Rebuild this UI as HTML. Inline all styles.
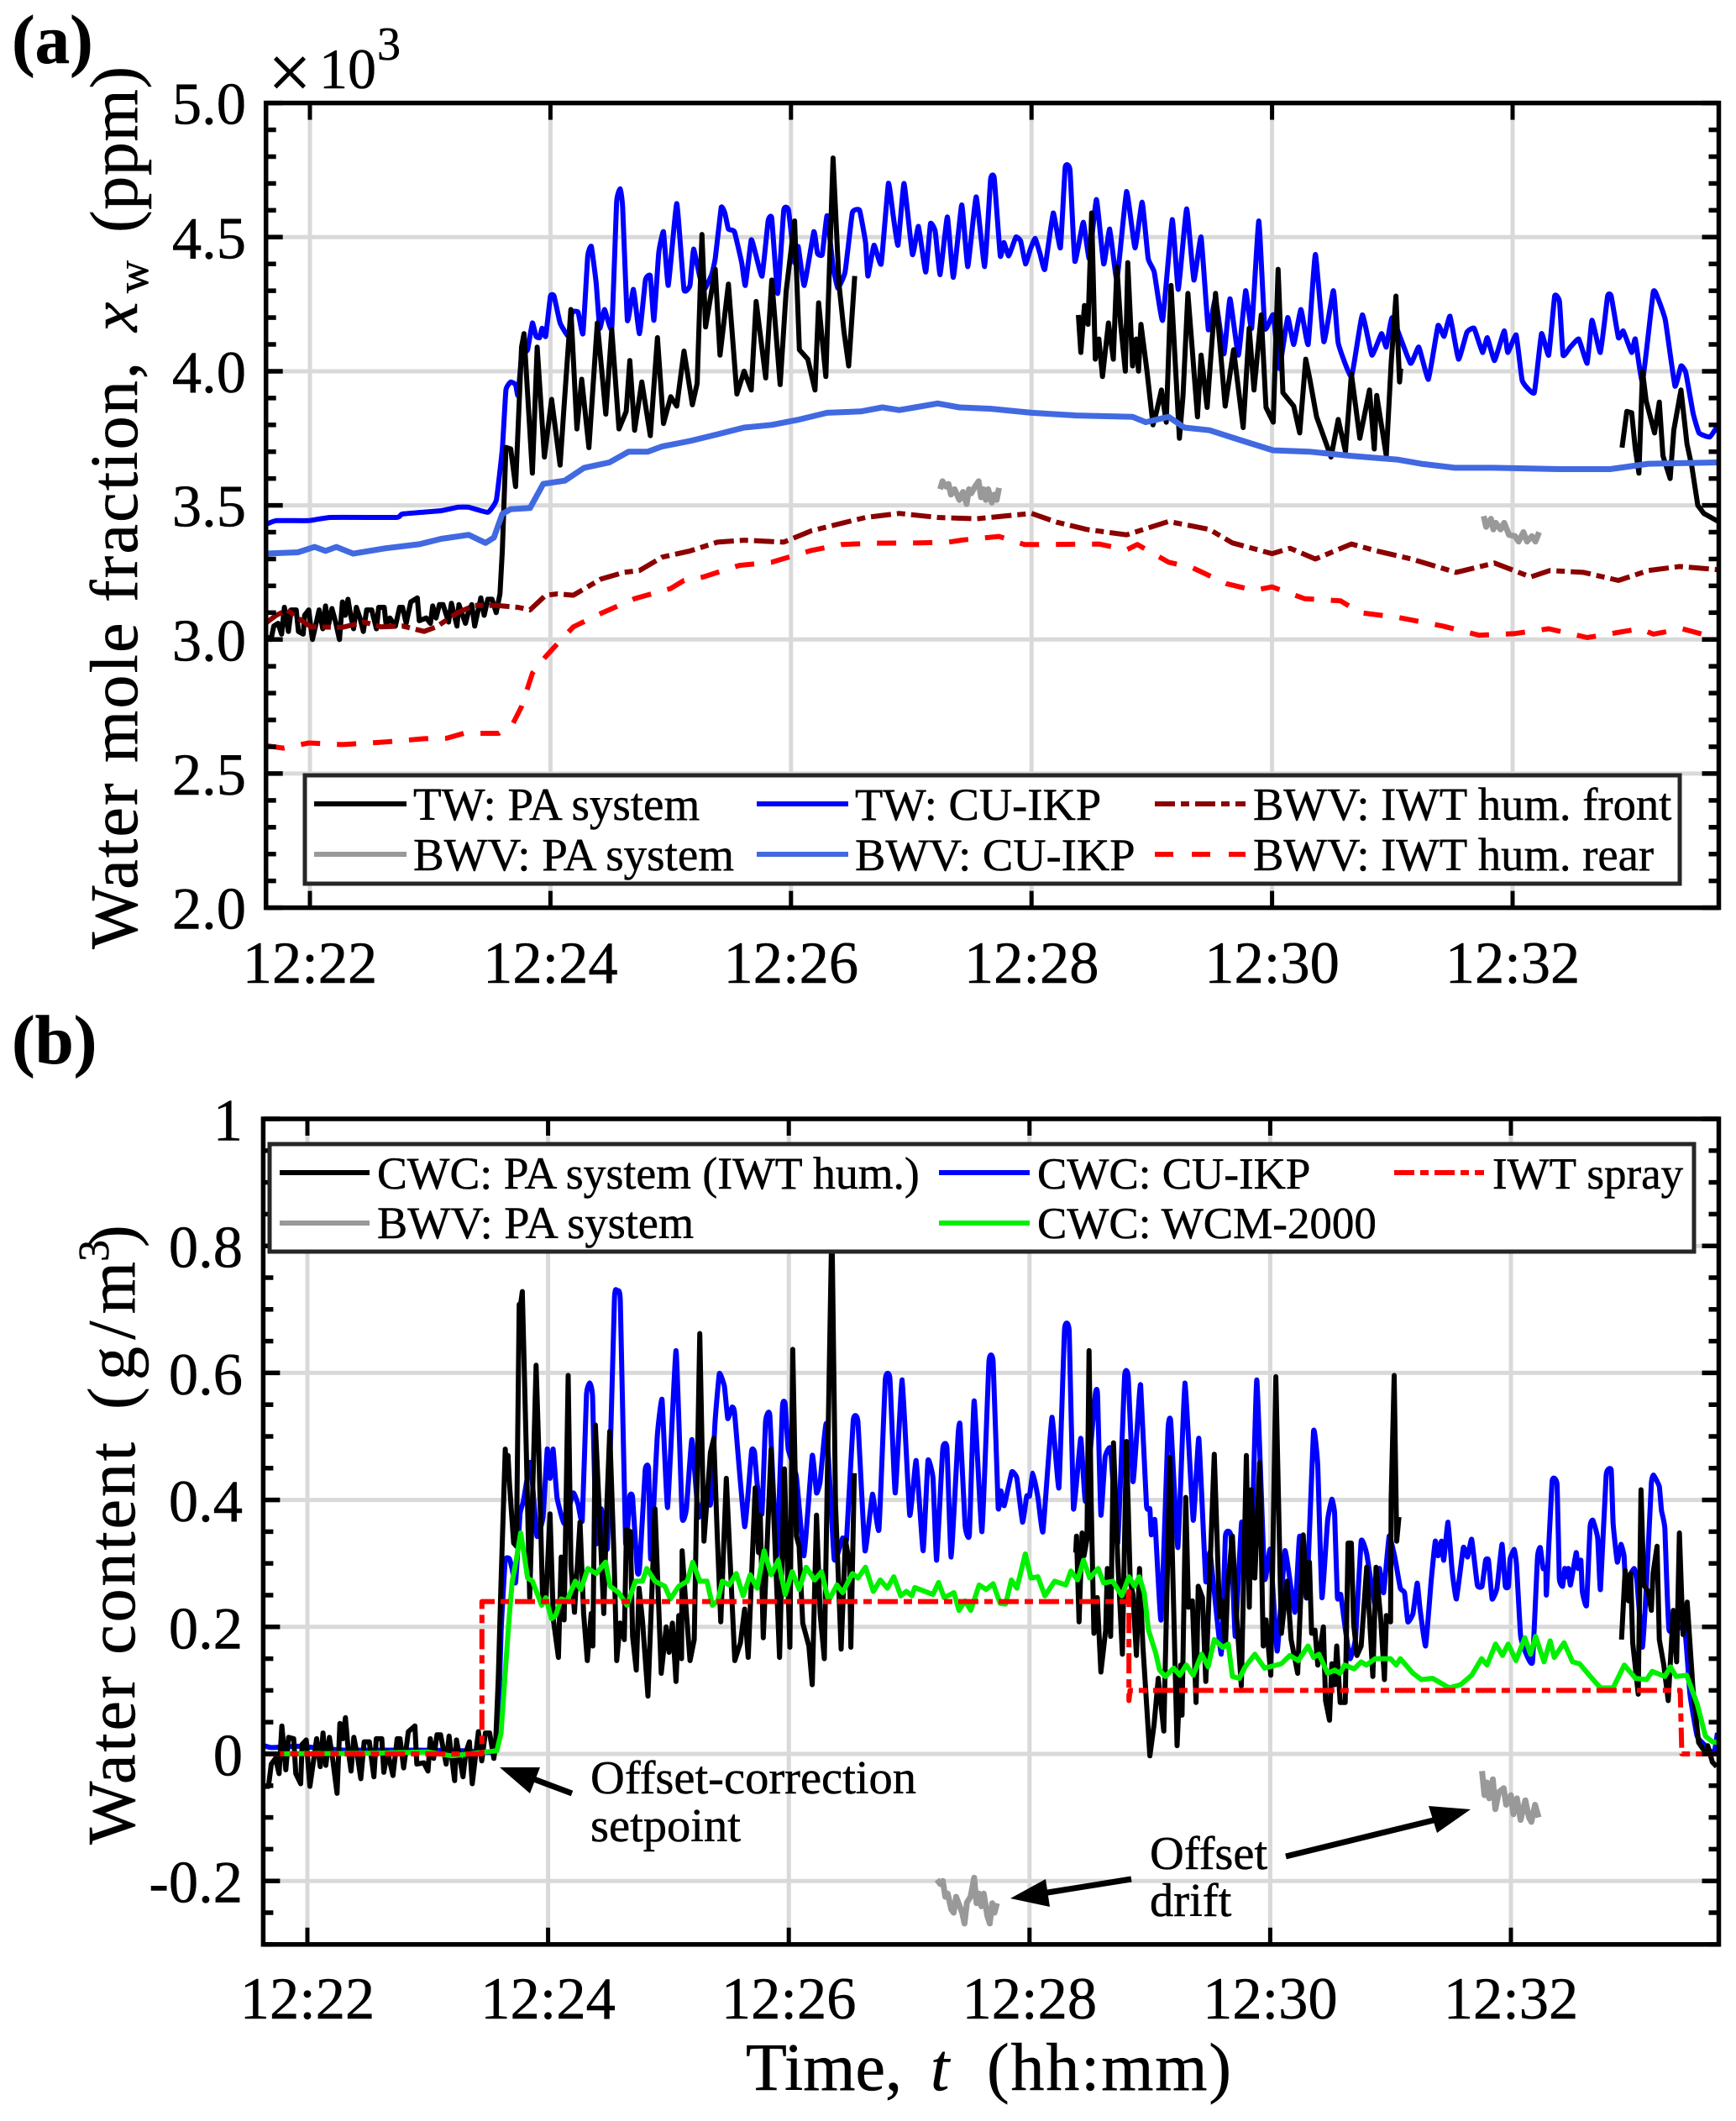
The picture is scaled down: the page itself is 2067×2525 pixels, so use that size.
<!DOCTYPE html>
<html lang="en">
<head>
<meta charset="utf-8">
<title>Water mole fraction and water content time series</title>
<style>
html,body{margin:0;padding:0;background:#fff;}
svg{display:block;}
text{font-family:"Liberation Serif",serif;fill:#000;stroke:#000;stroke-width:.5px;}
</style>
</head>
<body>
<svg id="chart" xmlns="http://www.w3.org/2000/svg" width="2067" height="2525" viewBox="0 0 2067 2525">
<rect x="0" y="0" width="2067" height="2525" fill="#fff"/>
<defs>
<clipPath id="clipA"><rect x="317" y="123" width="1730" height="958"/></clipPath>
<clipPath id="clipB"><rect x="313" y="1332" width="1734" height="983"/></clipPath>
</defs>
<g id="gridA"></g>
<g id="gridB"></g>
<g id="marksA" clip-path="url(#clipA)"></g>
<g id="marksB" clip-path="url(#clipB)"></g>
<g id="ticksA"></g>
<g id="ticksB"></g>

<rect x="316.7" y="122.6" width="1729.8" height="958" fill="none" stroke="#000" stroke-width="5.5"/>
<rect x="313.4" y="1332" width="1733.1" height="982.8" fill="none" stroke="#000" stroke-width="5.5"/>

<text x="14" y="75" font-size="83" font-weight="bold">(a)</text>
<text x="14" y="1266" font-size="83" font-weight="bold">(b)</text>
<text x="319" y="117" font-size="92">×</text>
<text x="380" y="105" font-size="68">10</text>
<text x="449" y="71" font-size="56">3</text>

<g>
<text transform="translate(163,1130) rotate(-90)" font-size="80" textLength="699" lengthAdjust="spacing">Water mole fraction,</text>
<text transform="translate(163,395) rotate(-90)" font-size="80" font-style="italic">x</text>
<text transform="translate(176,349) rotate(-90)" font-size="54">w</text>
<text transform="translate(163,277) rotate(-90)" font-size="80" textLength="198" lengthAdjust="spacing">(ppm)</text>
</g>
<g>
<text transform="translate(160,2196) rotate(-90)" font-size="80" textLength="479" lengthAdjust="spacing">Water content</text>
<text transform="translate(160,1678) rotate(-90)" font-size="80" textLength="176" lengthAdjust="spacing">(g/m</text>
<text transform="translate(129,1502) rotate(-90)" font-size="52">3</text>
<text transform="translate(160,1485) rotate(-90)" font-size="80">)</text>
</g>
<g>
<text x="888" y="2488" font-size="80">Time,</text>
<text x="1108" y="2488" font-size="80" font-style="italic">t</text>
<text x="1175" y="2488" font-size="80" textLength="291" lengthAdjust="spacing">(hh:mm)</text>
</g>

<g>
<rect x="363" y="923" width="1637" height="129" fill="#fff" stroke="#262626" stroke-width="5"/>
<line x1="374" x2="484" y1="957" y2="957" stroke="#000" stroke-width="6"/>
<text x="492" y="976" font-size="55">TW: PA system</text>
<line x1="374" x2="484" y1="1017" y2="1017" stroke="#999" stroke-width="6"/>
<text x="492" y="1036" font-size="55">BWV: PA system</text>
<line x1="901" x2="1010" y1="957" y2="957" stroke="#0000ff" stroke-width="6"/>
<text x="1018" y="976" font-size="54.5">TW: CU-IKP</text>
<line x1="901" x2="1010" y1="1017" y2="1017" stroke="#4169e1" stroke-width="6"/>
<text x="1018" y="1036" font-size="54.5">BWV: CU-IKP</text>
<line x1="1375" x2="1483" y1="957" y2="957" stroke="#8b0000" stroke-width="6" stroke-dasharray="24 7 10 7"/>
<text x="1492" y="976" font-size="54.6">BWV: IWT hum. front</text>
<line x1="1375" x2="1483" y1="1017" y2="1017" stroke="#ff0000" stroke-width="6" stroke-dasharray="22 22"/>
<text x="1492" y="1036" font-size="54.6">BWV: IWT hum. rear</text>
</g>

<g>
<rect x="321" y="1362" width="1696" height="128" fill="#fff" stroke="#262626" stroke-width="5"/>
<line x1="333" x2="440" y1="1396" y2="1396" stroke="#000" stroke-width="6"/>
<text x="449" y="1415" font-size="53.7">CWC: PA system (IWT hum.)</text>
<line x1="333" x2="440" y1="1456" y2="1456" stroke="#999" stroke-width="6"/>
<text x="449" y="1474" font-size="54.3">BWV: PA system</text>
<line x1="1118" x2="1226" y1="1396" y2="1396" stroke="#0000ff" stroke-width="6"/>
<text x="1235" y="1415" font-size="53">CWC: CU-IKP</text>
<line x1="1118" x2="1226" y1="1456" y2="1456" stroke="#00f000" stroke-width="6"/>
<text x="1235" y="1474" font-size="53">CWC: WCM-2000</text>
<line x1="1660" x2="1767" y1="1396" y2="1396" stroke="#ff0000" stroke-width="6" stroke-dasharray="24 7 10 7"/>
<text x="1777" y="1415" font-size="53">IWT spray</text>
</g>

<g>
<text x="703" y="2135" font-size="56.5">Offset-correction</text>
<text x="703" y="2192" font-size="56.5">setpoint</text>
<text x="1369" y="2225" font-size="56.5">Offset</text>
<text x="1369" y="2281" font-size="56.5">drift</text>
<line x1="681" y1="2135" x2="625" y2="2114" stroke="#000" stroke-width="7"/>
<polygon points="595,2104 643,2104 631,2135" fill="#000"/>
<line x1="1347" y1="2237" x2="1235" y2="2255" stroke="#000" stroke-width="7"/>
<polygon points="1203,2260 1245,2237 1250,2270" fill="#000"/>
<line x1="1531" y1="2210" x2="1715" y2="2165" stroke="#000" stroke-width="7"/>
<polygon points="1751,2154 1701,2150 1711,2182" fill="#000"/>
</g>
<g id="labels"></g>
</svg>

<script>
// ---------- shared axis data ----------
const xTickMinutes = [22, 24, 26, 28, 30, 32];
const xTickLabels = ["12:22", "12:24", "12:26", "12:28", "12:30", "12:32"];
const yTicksA = [2, 2.5, 3, 3.5, 4, 4.5, 5];
const yLabelsA = ["2.0", "2.5", "3.0", "3.5", "4.0", "4.5", "5.0"];
const yMinorStepA = 0.1;
const yTicksB = [-0.2, 0, 0.2, 0.4, 0.6, 0.8, 1];
const yLabelsB = ["-0.2", "0", "0.2", "0.4", "0.6", "0.8", "1"];
const yMinorStepB = 0.05;

// ---------- panel (a): [minute after 12:00, mole fraction x 10^3 ppm] ----------
const twCuIkpA = [[21.64,3.43],[21.72,3.443],[21.99,3.443],[22.17,3.455],[22.72,3.455],[22.77,3.468],[23.09,3.48],[23.23,3.493],[23.32,3.493],[23.48,3.474],[23.55,3.52],[23.6,3.71],[23.63,3.93],[23.67,3.96],[23.71,3.95],[23.73,3.91],[23.76,4.06],[23.78,4.07],[23.81,4.08],[23.85,4.18],[23.88,4.13],[23.91,4.125],[23.93,4.16],[23.96,4.13],[24.0,4.28],[24.03,4.28],[24.08,4.18],[24.15,4.13],[24.18,4.22],[24.23,4.22],[24.27,4.14],[24.31,4.43],[24.34,4.465],[24.38,4.33],[24.41,4.16],[24.45,4.23],[24.51,4.16],[24.55,4.63],[24.58,4.68],[24.6,4.615],[24.64,4.19],[24.69,4.305],[24.74,4.14],[24.79,4.34],[24.83,4.355],[24.86,4.19],[24.9,4.44],[24.94,4.52],[24.98,4.32],[25.05,4.625],[25.11,4.305],[25.16,4.32],[25.19,4.455],[25.24,4.355],[25.28,4.305],[25.34,4.36],[25.37,4.42],[25.42,4.61],[25.45,4.59],[25.48,4.53],[25.53,4.52],[25.59,4.405],[25.62,4.32],[25.67,4.49],[25.71,4.43],[25.76,4.355],[25.81,4.56],[25.84,4.57],[25.89,4.29],[25.94,4.6],[25.98,4.6],[26.03,4.405],[26.06,4.465],[26.11,4.32],[26.19,4.52],[26.22,4.44],[26.26,4.435],[26.3,4.58],[26.35,4.39],[26.39,4.31],[26.45,4.37],[26.51,4.59],[26.57,4.6],[26.62,4.48],[26.64,4.355],[26.69,4.47],[26.75,4.4],[26.81,4.7],[26.85,4.58],[26.89,4.47],[26.94,4.7],[27.01,4.435],[27.06,4.54],[27.12,4.37],[27.16,4.55],[27.2,4.52],[27.24,4.36],[27.3,4.575],[27.35,4.35],[27.42,4.62],[27.47,4.39],[27.54,4.65],[27.61,4.39],[27.66,4.715],[27.69,4.72],[27.74,4.43],[27.77,4.48],[27.81,4.43],[27.87,4.5],[27.91,4.485],[27.95,4.4],[27.99,4.455],[28.03,4.495],[28.07,4.44],[28.11,4.38],[28.18,4.59],[28.24,4.46],[28.28,4.76],[28.32,4.75],[28.36,4.41],[28.43,4.555],[28.48,4.42],[28.54,4.64],[28.6,4.4],[28.65,4.53],[28.71,4.34],[28.79,4.67],[28.86,4.46],[28.92,4.63],[28.97,4.42],[29.02,4.37],[29.09,4.19],[29.17,4.565],[29.22,4.305],[29.29,4.605],[29.35,4.34],[29.41,4.5],[29.47,4.155],[29.53,4.27],[29.6,4.065],[29.65,4.27],[29.72,4.06],[29.78,4.3],[29.83,4.16],[29.89,4.56],[29.94,4.16],[30.01,4.21],[30.06,4.01],[30.13,4.2],[30.18,4.1],[30.24,4.23],[30.3,4.1],[30.36,4.435],[30.43,4.11],[30.51,4.3],[30.55,4.105],[30.66,3.98],[30.75,4.21],[30.83,4.06],[30.91,4.14],[30.95,4.09],[31.0,4.2],[31.15,4.03],[31.22,4.09],[31.3,3.97],[31.38,4.17],[31.43,4.13],[31.48,4.205],[31.55,4.045],[31.62,4.145],[31.68,4.16],[31.75,4.07],[31.79,4.125],[31.85,4.04],[31.93,4.15],[31.96,4.07],[32.03,4.135],[32.08,3.965],[32.18,3.92],[32.24,4.14],[32.3,4.06],[32.35,4.28],[32.39,4.26],[32.42,4.06],[32.48,4.09],[32.55,4.12],[32.62,4.03],[32.66,4.19],[32.73,4.07],[32.79,4.28],[32.82,4.28],[32.88,4.125],[32.92,4.15],[32.99,4.07],[33.02,4.12],[33.08,3.96],[33.17,4.295],[33.21,4.27],[33.27,4.19],[33.35,3.945],[33.4,4.02],[33.44,3.995],[33.5,3.845],[33.55,3.77],[33.64,3.755],[33.71,3.8]];
const twPaSeg1A = [[21.642,3.01],[21.677,3.0],[21.7,3.05],[21.735,3.06],[21.765,3.02],[21.788,3.12],[21.821,3.03],[21.844,3.11],[21.886,3.11],[21.904,3.03],[21.944,3.02],[21.956,3.09],[21.99,3.11],[22.021,3.0],[22.077,3.11],[22.107,3.04],[22.13,3.125],[22.153,3.05],[22.183,3.115],[22.211,3.07],[22.246,3.0],[22.27,3.14],[22.293,3.09],[22.316,3.15],[22.339,3.09],[22.363,3.04],[22.386,3.12],[22.416,3.08],[22.444,3.03],[22.472,3.11],[22.514,3.11],[22.553,3.04],[22.572,3.12],[22.618,3.12],[22.635,3.05],[22.665,3.08],[22.711,3.05],[22.746,3.12],[22.77,3.12],[22.8,3.06],[22.839,3.14],[22.893,3.155],[22.909,3.07],[22.967,3.08],[23.002,3.06],[23.021,3.125],[23.049,3.08],[23.077,3.13],[23.107,3.13],[23.153,3.065],[23.177,3.135],[23.223,3.05],[23.239,3.13],[23.293,3.06],[23.316,3.1],[23.346,3.13],[23.37,3.05],[23.421,3.155],[23.449,3.09],[23.479,3.15],[23.514,3.15],[23.549,3.1],[23.58,3.17],[23.6,3.33],[23.63,3.716],[23.67,3.71],[23.71,3.57],[23.76,4.09],[23.78,4.14],[23.85,3.62],[23.89,4.09],[23.95,3.68],[24.01,3.895],[24.08,3.65],[24.11,3.85],[24.17,4.23],[24.22,3.785],[24.26,3.97],[24.32,3.715],[24.39,4.18],[24.46,3.84],[24.51,4.155],[24.57,3.785],[24.63,3.85],[24.66,4.04],[24.7,3.78],[24.76,3.96],[24.83,3.76],[24.89,4.125],[24.94,3.805],[25.0,3.905],[25.05,3.87],[25.11,4.075],[25.18,3.875],[25.22,3.955],[25.26,4.51],[25.29,4.165],[25.37,4.38],[25.41,4.06],[25.48,4.325],[25.55,3.915],[25.61,4.0],[25.67,3.93],[25.71,4.26],[25.79,3.975],[25.84,4.34],[25.91,3.95],[25.96,4.3],[26.03,4.56],[26.07,4.08],[26.14,4.045],[26.2,3.93],[26.23,4.255],[26.29,3.98],[26.35,4.795],[26.4,4.32],[26.44,4.15],[26.48,4.02],[26.53,4.355]];
const twPaSeg2A = [[28.39,4.21],[28.41,4.07],[28.44,4.245],[28.47,4.175],[28.5,4.59],[28.53,4.045],[28.56,4.12],[28.59,3.98],[28.64,4.18],[28.68,4.045],[28.71,4.39],[28.74,4.18],[28.78,4.0],[28.8,4.405],[28.84,4.02],[28.87,4.12],[28.89,4.0],[28.91,4.175],[28.96,4.0],[29.01,3.8],[29.04,3.85],[29.08,3.93],[29.12,3.81],[29.16,4.32],[29.23,3.75],[29.26,3.91],[29.3,4.29],[29.38,3.83],[29.41,4.06],[29.46,3.865],[29.53,4.29],[29.61,3.87],[29.68,4.08],[29.76,3.79],[29.81,4.16],[29.85,3.93],[29.91,4.21],[29.95,3.865],[30.01,3.81],[30.05,4.38],[30.09,3.92],[30.18,3.87],[30.23,3.77],[30.28,4.045],[30.31,3.98],[30.37,3.83],[30.49,3.68],[30.55,3.82],[30.61,3.7],[30.66,3.99],[30.73,3.75],[30.81,3.93],[30.85,3.71],[30.87,3.91],[30.95,3.685],[30.99,4.03],[31.03,4.28],[31.06,3.96],[31.07,4.01]];
const twPaSeg3A = [[32.91,3.715],[32.95,3.85],[32.99,3.845],[33.02,3.71],[33.05,3.62],[33.08,4.0],[33.11,3.89],[33.18,3.77],[33.22,3.885],[33.25,3.685],[33.31,3.6],[33.34,3.78],[33.4,3.93],[33.45,3.73],[33.49,3.645],[33.54,3.5],[33.59,3.47],[33.71,3.44]];
const bwvCuIkpA = [[21.63,3.32],[21.9,3.325],[22.04,3.345],[22.13,3.33],[22.22,3.345],[22.36,3.32],[22.63,3.34],[22.91,3.355],[23.09,3.375],[23.32,3.39],[23.46,3.36],[23.53,3.38],[23.6,3.468],[23.67,3.486],[23.83,3.49],[23.94,3.58],[24.12,3.592],[24.28,3.64],[24.49,3.66],[24.65,3.7],[24.81,3.7],[24.93,3.72],[25.16,3.74],[25.39,3.765],[25.61,3.79],[25.84,3.8],[26.07,3.82],[26.3,3.845],[26.58,3.85],[26.76,3.865],[26.9,3.855],[27.03,3.865],[27.22,3.88],[27.4,3.865],[27.66,3.86],[28.0,3.845],[28.37,3.835],[28.84,3.83],[28.95,3.81],[29.14,3.83],[29.27,3.79],[29.48,3.78],[29.76,3.74],[30.01,3.705],[30.31,3.7],[30.64,3.685],[31.05,3.67],[31.24,3.655],[31.52,3.64],[31.84,3.64],[32.39,3.635],[32.81,3.635],[33.13,3.655],[33.71,3.66]];
const bwvPaSeg1A = [[27.24,3.56],[27.26,3.59],[27.29,3.57],[27.31,3.58],[27.33,3.54],[27.36,3.56],[27.4,3.52],[27.43,3.55],[27.46,3.505],[27.48,3.56],[27.5,3.545],[27.53,3.57],[27.56,3.59],[27.58,3.53],[27.6,3.56],[27.62,3.52],[27.64,3.56],[27.67,3.51],[27.69,3.54],[27.71,3.52],[27.73,3.565]];
const bwvPaSeg2A = [[31.76,3.46],[31.78,3.42],[31.82,3.45],[31.84,3.41],[31.86,3.435],[31.9,3.41],[31.93,3.435],[31.97,3.39],[32.02,3.385],[32.05,3.365],[32.09,3.4],[32.12,3.365],[32.16,3.385],[32.19,3.365],[32.22,3.4]];
const humFrontA = [[21.63,3.06],[21.72,3.09],[21.81,3.11],[21.9,3.08],[22.01,3.047],[22.27,3.045],[22.45,3.065],[22.59,3.047],[22.77,3.05],[22.95,3.03],[23.05,3.047],[23.23,3.1],[23.37,3.127],[23.55,3.127],[23.73,3.12],[23.83,3.11],[23.96,3.165],[24.06,3.17],[24.19,3.165],[24.42,3.225],[24.61,3.25],[24.74,3.257],[24.93,3.307],[25.16,3.33],[25.39,3.363],[25.61,3.37],[25.94,3.363],[26.17,3.405],[26.42,3.433],[26.62,3.455],[26.9,3.47],[27.22,3.455],[27.54,3.45],[28.0,3.47],[28.21,3.437],[28.46,3.41],[28.79,3.39],[29.14,3.44],[29.48,3.41],[29.67,3.36],[30.0,3.32],[30.15,3.34],[30.36,3.3],[30.66,3.356],[30.87,3.33],[31.16,3.3],[31.53,3.25],[31.85,3.285],[32.15,3.233],[32.31,3.257],[32.59,3.25],[32.88,3.22],[33.13,3.257],[33.39,3.272],[33.71,3.26]];
const humRearA = [[21.63,2.604],[21.78,2.595],[21.99,2.614],[22.27,2.608],[22.63,2.618],[22.95,2.63],[23.14,2.632],[23.28,2.65],[23.57,2.65],[23.69,2.688],[23.76,2.75],[23.85,2.874],[23.96,2.936],[24.06,2.985],[24.19,3.047],[24.42,3.097],[24.7,3.152],[25.0,3.19],[25.11,3.22],[25.27,3.233],[25.39,3.25],[25.57,3.276],[25.84,3.288],[26.17,3.332],[26.42,3.354],[26.71,3.359],[27.08,3.36],[27.31,3.363],[27.43,3.371],[27.73,3.384],[27.94,3.354],[28.19,3.354],[28.56,3.356],[28.79,3.334],[28.88,3.354],[29.14,3.288],[29.34,3.267],[29.62,3.208],[29.85,3.183],[30.0,3.196],[30.27,3.152],[30.57,3.144],[30.73,3.1],[31.05,3.082],[31.42,3.05],[31.72,3.016],[32.02,3.022],[32.3,3.04],[32.62,3.007],[33.06,3.04],[33.17,3.02],[33.41,3.04],[33.71,3.004]];

// ---------- panel (b): [minute after 12:00, water content g/m^3] ----------
const cwcCuIkpB = [[21.64,0.013],[21.7,0.01],[21.93,0.012],[22.3,0.006],[22.9,0.006],[23.3,0.005],[23.55,0.003],[23.586,0.048],[23.61,0.195],[23.644,0.305],[23.68,0.307],[23.7,0.292],[23.73,0.27],[23.767,0.378],[23.795,0.398],[23.854,0.459],[23.907,0.343],[23.958,0.373],[23.993,0.48],[24.016,0.434],[24.042,0.48],[24.074,0.404],[24.133,0.363],[24.209,0.411],[24.249,0.393],[24.284,0.368],[24.319,0.566],[24.347,0.584],[24.37,0.561],[24.4,0.332],[24.442,0.386],[24.493,0.325],[24.551,0.716],[24.574,0.728],[24.6,0.713],[24.644,0.332],[24.679,0.406],[24.702,0.404],[24.742,0.287],[24.76,0.292],[24.807,0.447],[24.835,0.449],[24.853,0.307],[24.907,0.5],[24.947,0.558],[24.993,0.388],[25.063,0.635],[25.114,0.373],[25.149,0.386],[25.195,0.495],[25.249,0.373],[25.302,0.409],[25.349,0.393],[25.388,0.525],[25.423,0.599],[25.465,0.579],[25.493,0.528],[25.528,0.546],[25.55,0.536],[25.633,0.358],[25.691,0.477],[25.715,0.475],[25.737,0.426],[25.777,0.378],[25.807,0.523],[25.842,0.533],[25.9,0.312],[25.947,0.546],[25.97,0.551],[25.995,0.48],[26.063,0.437],[26.126,0.312],[26.195,0.47],[26.23,0.411],[26.26,0.429],[26.312,0.52],[26.377,0.307],[26.447,0.34],[26.48,0.338],[26.535,0.525],[26.574,0.523],[26.633,0.32],[26.695,0.409],[26.749,0.353],[26.802,0.589],[26.84,0.591],[26.884,0.411],[26.942,0.589],[27.005,0.376],[27.058,0.462],[27.116,0.32],[27.156,0.462],[27.198,0.434],[27.228,0.305],[27.279,0.48],[27.314,0.482],[27.349,0.31],[27.407,0.503],[27.423,0.518],[27.465,0.36],[27.5,0.345],[27.54,0.556],[27.605,0.35],[27.663,0.617],[27.698,0.617],[27.74,0.388],[27.763,0.414],[27.79,0.391],[27.853,0.444],[27.895,0.434],[27.942,0.365],[27.977,0.406],[28.0,0.406],[28.028,0.442],[28.07,0.404],[28.112,0.35],[28.186,0.53],[28.244,0.419],[28.291,0.668],[28.33,0.665],[28.365,0.386],[28.426,0.497],[28.465,0.398],[28.547,0.566],[28.565,0.566],[28.593,0.376],[28.628,0.467],[28.674,0.48],[28.733,0.332],[28.79,0.594],[28.82,0.594],[28.86,0.429],[28.895,0.515],[28.923,0.581],[28.972,0.391],[29.0,0.386],[29.012,0.345],[29.042,0.368],[29.093,0.211],[29.151,0.51],[29.174,0.523],[29.233,0.325],[29.291,0.584],[29.36,0.368],[29.407,0.497],[29.465,0.272],[29.5,0.317],[29.593,0.157],[29.628,0.343],[29.674,0.343],[29.71,0.185],[29.763,0.365],[29.837,0.277],[29.888,0.589],[29.953,0.277],[30.0,0.322],[30.058,0.162],[30.123,0.32],[30.205,0.223],[30.244,0.343],[30.302,0.246],[30.36,0.508],[30.395,0.454],[30.43,0.246],[30.477,0.368],[30.512,0.401],[30.535,0.378],[30.558,0.246],[30.586,0.251],[30.616,0.208],[30.663,0.15],[30.709,0.183],[30.756,0.335],[30.802,0.315],[30.872,0.231],[30.907,0.292],[30.942,0.254],[30.988,0.343],[31.035,0.31],[31.081,0.261],[31.116,0.254],[31.144,0.208],[31.186,0.221],[31.221,0.269],[31.245,0.228],[31.291,0.17],[31.337,0.272],[31.372,0.335],[31.395,0.312],[31.423,0.335],[31.442,0.305],[31.477,0.365],[31.512,0.287],[31.547,0.244],[31.605,0.325],[31.64,0.31],[31.674,0.338],[31.721,0.266],[31.76,0.264],[31.79,0.305],[31.814,0.305],[31.844,0.244],[31.884,0.261],[31.926,0.33],[31.953,0.264],[31.98,0.264],[31.993,0.307],[32.028,0.322],[32.047,0.297],[32.081,0.185],[32.128,0.157],[32.179,0.145],[32.221,0.31],[32.244,0.325],[32.267,0.292],[32.29,0.292],[32.295,0.251],[32.342,0.429],[32.384,0.424],[32.402,0.277],[32.43,0.264],[32.447,0.292],[32.465,0.279],[32.477,0.292],[32.495,0.266],[32.542,0.317],[32.558,0.292],[32.581,0.305],[32.593,0.256],[32.628,0.234],[32.658,0.358],[32.681,0.368],[32.721,0.34],[32.744,0.259],[32.791,0.439],[32.833,0.447],[32.849,0.363],[32.884,0.302],[32.914,0.33],[32.94,0.312],[32.953,0.272],[33.023,0.292],[33.047,0.272],[33.093,0.168],[33.128,0.272],[33.167,0.426],[33.186,0.439],[33.233,0.421],[33.251,0.383],[33.279,0.355],[33.314,0.195],[33.442,0.2],[33.488,0.094],[33.547,0.028],[33.616,0.013],[33.686,0.0],[33.716,0.033]];
const cwcPaSeg1B = [[21.642,-0.051],[21.677,-0.051],[21.7,-0.016],[21.735,-0.007],[21.765,-0.031],[21.788,0.044],[21.821,-0.025],[21.844,0.026],[21.886,0.024],[21.904,-0.031],[21.944,-0.047],[21.956,0.015],[21.99,0.022],[22.021,-0.051],[22.077,0.024],[22.107,-0.02],[22.13,0.033],[22.153,-0.018],[22.183,0.026],[22.211,-0.009],[22.246,-0.062],[22.27,0.048],[22.293,0.024],[22.316,0.057],[22.339,0.006],[22.363,-0.027],[22.386,0.026],[22.416,-0.003],[22.444,-0.039],[22.472,0.019],[22.514,0.019],[22.553,-0.036],[22.572,0.024],[22.618,0.024],[22.635,-0.029],[22.665,0.004],[22.711,-0.034],[22.746,0.024],[22.77,0.024],[22.8,-0.022],[22.839,0.035],[22.893,0.044],[22.909,-0.016],[22.967,-0.014],[23.002,-0.027],[23.021,0.024],[23.049,-0.007],[23.077,0.03],[23.107,0.03],[23.153,-0.016],[23.177,0.028],[23.223,-0.042],[23.239,0.022],[23.293,-0.036],[23.316,0.002],[23.346,0.019],[23.37,-0.047],[23.421,0.035],[23.449,-0.011],[23.479,0.033],[23.514,0.033],[23.549,-0.007],[23.563,0.013],[23.586,0.119],[23.609,0.272],[23.644,0.48],[23.656,0.434],[23.667,0.47],[23.68,0.424],[23.714,0.332],[23.737,0.327],[23.76,0.708],[23.772,0.708],[23.786,0.728],[23.819,0.475],[23.847,0.246],[23.877,0.449],[23.9,0.612],[23.923,0.475],[23.953,0.251],[23.981,0.241],[24.016,0.378],[24.044,0.211],[24.086,0.152],[24.109,0.31],[24.133,0.211],[24.167,0.596],[24.19,0.297],[24.219,0.223],[24.265,0.365],[24.295,0.221],[24.326,0.147],[24.358,0.221],[24.372,0.17],[24.393,0.518],[24.423,0.393],[24.463,0.221],[24.486,0.378],[24.512,0.508],[24.55,0.297],[24.57,0.147],[24.598,0.206],[24.633,0.18],[24.651,0.353],[24.684,0.35],[24.702,0.185],[24.733,0.132],[24.756,0.261],[24.784,0.211],[24.83,0.091],[24.888,0.386],[24.94,0.127],[24.981,0.2],[25.005,0.16],[25.033,0.206],[25.063,0.114],[25.086,0.218],[25.109,0.15],[25.114,0.32],[25.149,0.221],[25.179,0.147],[25.214,0.18],[25.26,0.662],[25.295,0.335],[25.349,0.475],[25.377,0.497],[25.405,0.348],[25.435,0.208],[25.481,0.434],[25.551,0.147],[25.598,0.175],[25.633,0.228],[25.663,0.152],[25.721,0.419],[25.749,0.317],[25.763,0.376],[25.788,0.183],[25.853,0.48],[25.923,0.152],[25.963,0.449],[26.009,0.168],[26.033,0.637],[26.063,0.343],[26.086,0.327],[26.116,0.206],[26.167,0.17],[26.195,0.109],[26.23,0.376],[26.26,0.221],[26.295,0.15],[26.319,0.419],[26.358,0.84],[26.388,0.393],[26.435,0.165],[26.47,0.338],[26.505,0.297],[26.516,0.168],[26.544,0.442]];
const cwcPaSeg2B = [[28.384,0.317],[28.391,0.343],[28.412,0.208],[28.437,0.348],[28.453,0.312],[28.477,0.338],[28.495,0.635],[28.512,0.398],[28.535,0.19],[28.563,0.246],[28.593,0.129],[28.633,0.195],[28.647,0.292],[28.674,0.185],[28.698,0.49],[28.733,0.307],[28.772,0.157],[28.805,0.492],[28.837,0.272],[28.86,0.251],[28.888,0.155],[28.914,0.292],[28.942,0.17],[29.0,-0.003],[29.035,0.046],[29.07,0.119],[29.116,0.036],[29.167,0.467],[29.226,0.013],[29.256,0.14],[29.267,0.061],[29.298,0.404],[29.321,0.231],[29.353,0.241],[29.384,0.081],[29.402,0.264],[29.437,0.246],[29.465,0.114],[29.535,0.472],[29.58,0.216],[29.605,0.241],[29.628,0.17],[29.647,0.266],[29.686,0.343],[29.721,0.216],[29.76,0.107],[29.802,0.47],[29.826,0.231],[29.842,0.416],[29.872,0.277],[29.912,0.459],[29.942,0.17],[29.965,0.211],[30.005,0.124],[30.047,0.594],[30.093,0.19],[30.14,0.272],[30.174,0.18],[30.228,0.127],[30.274,0.345],[30.302,0.246],[30.326,0.302],[30.344,0.19],[30.372,0.195],[30.395,0.14],[30.442,0.2],[30.46,0.084],[30.493,0.053],[30.512,0.142],[30.535,0.109],[30.553,0.17],[30.581,0.081],[30.623,0.081],[30.647,0.332],[30.674,0.332],[30.693,0.206],[30.721,0.155],[30.756,0.17],[30.802,0.294],[30.853,0.122],[30.879,0.294],[30.919,0.211],[30.949,0.117],[30.965,0.218],[31.0,0.208],[31.005,0.401],[31.03,0.596],[31.051,0.335],[31.07,0.373]];
const cwcPaSeg3B = [[32.919,0.18],[32.949,0.289],[32.977,0.241],[32.995,0.284],[33.012,0.175],[33.058,0.094],[33.081,0.416],[33.105,0.266],[33.14,0.256],[33.167,0.226],[33.181,0.284],[33.214,0.327],[33.233,0.18],[33.27,0.14],[33.307,0.084],[33.349,0.226],[33.377,0.145],[33.4,0.348],[33.43,0.188],[33.465,0.239],[33.512,0.104],[33.56,0.018],[33.595,0.008],[33.63,0.003],[33.635,0.013],[33.674,-0.013],[33.71,-0.02]];
const wcmB = [[21.64,0.0],[22.5,0.001],[23.0,0.003],[23.2,-0.003],[23.574,0.005],[23.609,0.033],[23.644,0.129],[23.679,0.221],[23.702,0.272],[23.737,0.307],[23.772,0.348],[23.795,0.322],[23.83,0.277],[23.87,0.272],[23.912,0.251],[23.947,0.234],[23.981,0.246],[24.028,0.213],[24.063,0.218],[24.109,0.244],[24.156,0.241],[24.226,0.272],[24.272,0.259],[24.33,0.292],[24.4,0.284],[24.477,0.302],[24.516,0.264],[24.586,0.254],[24.656,0.234],[24.726,0.272],[24.784,0.272],[24.819,0.292],[24.888,0.272],[24.97,0.264],[25.016,0.244],[25.086,0.264],[25.156,0.272],[25.202,0.302],[25.26,0.272],[25.32,0.272],[25.365,0.234],[25.41,0.241],[25.447,0.272],[25.505,0.266],[25.563,0.284],[25.621,0.249],[25.679,0.282],[25.737,0.261],[25.795,0.32],[25.853,0.282],[25.912,0.305],[25.97,0.251],[26.028,0.287],[26.086,0.259],[26.144,0.294],[26.214,0.274],[26.272,0.287],[26.33,0.241],[26.4,0.266],[26.447,0.254],[26.528,0.284],[26.575,0.277],[26.637,0.294],[26.702,0.256],[26.76,0.274],[26.819,0.261],[26.872,0.279],[26.93,0.249],[26.977,0.256],[27.023,0.249],[27.047,0.262],[27.198,0.251],[27.244,0.27],[27.291,0.246],[27.372,0.254],[27.414,0.226],[27.465,0.241],[27.512,0.226],[27.581,0.266],[27.64,0.259],[27.698,0.268],[27.756,0.237],[27.802,0.236],[27.849,0.274],[27.895,0.261],[27.965,0.315],[28.012,0.277],[28.07,0.279],[28.128,0.249],[28.209,0.272],[28.302,0.266],[28.344,0.288],[28.4,0.274],[28.449,0.305],[28.5,0.277],[28.57,0.292],[28.616,0.269],[28.691,0.272],[28.767,0.249],[28.826,0.279],[28.872,0.264],[28.912,0.279],[28.953,0.254],[28.988,0.195],[29.047,0.16],[29.081,0.132],[29.128,0.122],[29.198,0.135],[29.249,0.124],[29.302,0.14],[29.36,0.124],[29.43,0.157],[29.484,0.137],[29.535,0.18],[29.605,0.168],[29.651,0.173],[29.686,0.122],[29.744,0.119],[29.791,0.137],[29.872,0.157],[29.953,0.135],[30.093,0.142],[30.163,0.155],[30.233,0.147],[30.314,0.17],[30.36,0.152],[30.405,0.157],[30.477,0.127],[30.535,0.132],[30.581,0.127],[30.616,0.14],[30.698,0.134],[30.756,0.145],[30.8,0.14],[30.872,0.15],[31.0,0.15],[31.047,0.14],[31.081,0.15],[31.186,0.127],[31.256,0.117],[31.349,0.119],[31.488,0.104],[31.581,0.109],[31.674,0.124],[31.756,0.15],[31.802,0.14],[31.872,0.173],[31.93,0.155],[31.977,0.173],[32.042,0.147],[32.116,0.183],[32.163,0.157],[32.205,0.185],[32.275,0.145],[32.326,0.178],[32.36,0.152],[32.442,0.175],[32.512,0.145],[32.57,0.142],[32.651,0.124],[32.744,0.104],[32.849,0.104],[32.942,0.14],[33.035,0.119],[33.128,0.117],[33.174,0.13],[33.279,0.122],[33.326,0.137],[33.372,0.122],[33.46,0.124],[33.547,0.079],[33.616,0.028],[33.674,0.019],[33.716,0.018]];
const sprayB = [[21.64,0],[23.45,0],[23.45,0.24],[28.82,0.24],[28.826,0.256],[28.826,0.084],[28.835,0.1],[33.407,0.1],[33.42,0],[33.716,0]];
const bwvPaSeg1B = [[27.23,-0.198],[27.26,-0.205],[27.28,-0.2],[27.3,-0.225],[27.32,-0.22],[27.35,-0.245],[27.37,-0.25],[27.39,-0.225],[27.41,-0.235],[27.44,-0.25],[27.46,-0.267],[27.48,-0.234],[27.51,-0.225],[27.54,-0.195],[27.56,-0.235],[27.58,-0.22],[27.6,-0.24],[27.62,-0.22],[27.65,-0.255],[27.67,-0.267],[27.69,-0.235],[27.71,-0.25],[27.73,-0.235]];
const bwvPaSeg2B = [[31.76,-0.027],[31.78,-0.065],[31.8,-0.045],[31.82,-0.07],[31.85,-0.04],[31.87,-0.087],[31.9,-0.06],[31.94,-0.054],[31.96,-0.08],[32.0,-0.065],[32.02,-0.095],[32.05,-0.07],[32.08,-0.104],[32.12,-0.073],[32.15,-0.1],[32.17,-0.107],[32.2,-0.08],[32.23,-0.1]];

// ---------- axis functions ----------
const xA = t => 369 + (t - 22) * 143.2;
const yA = v => 1080.6 - (v - 2) * 319.33;
const xB = t => 366 + (t - 22) * 143.3;
const yB = v => 2088 - v * 756;

const SVG_NS = 'http://www.w3.org/2000/svg';
function makeLine(x1, y1, x2, y2, stroke, width) {
  const l = document.createElementNS(SVG_NS, 'line');
  l.setAttribute('x1', x1);
  l.setAttribute('y1', y1);
  l.setAttribute('x2', x2);
  l.setAttribute('y2', y2);
  l.setAttribute('stroke', stroke);
  l.setAttribute('stroke-width', width);
  return l;
}
function pathData(points, xf, yf, smooth) {
  const px = points.map(pt => [xf(pt[0]), yf(pt[1])]);
  let d = 'M' + px[0][0].toFixed(1) + ' ' + px[0][1].toFixed(1);
  for (let i = 0; i < px.length - 1; i++) {
    const p1 = px[i], p2 = px[i + 1];
    if (smooth) {
      const p0 = px[Math.max(i - 1, 0)], p3 = px[Math.min(i + 2, px.length - 1)];
      const k = 0.06;
      d += 'C' + (p1[0] + (p2[0] - p0[0]) * k).toFixed(1) + ' ' + (p1[1] + (p2[1] - p0[1]) * k).toFixed(1) + ' ' +
        (p2[0] - (p3[0] - p1[0]) * k).toFixed(1) + ' ' + (p2[1] - (p3[1] - p1[1]) * k).toFixed(1) + ' ' +
        p2[0].toFixed(1) + ' ' + p2[1].toFixed(1);
    } else {
      d += 'L' + p2[0].toFixed(1) + ' ' + p2[1].toFixed(1);
    }
  }
  return d;
}
function makePath(points, xf, yf, stroke, width, dash, smooth) {
  const p = document.createElementNS(SVG_NS, 'path');
  p.setAttribute('d', pathData(points, xf, yf, smooth));
  p.setAttribute('fill', 'none');
  p.setAttribute('stroke', stroke);
  p.setAttribute('stroke-width', width);
  p.setAttribute('stroke-linejoin', 'round');
  if (dash) p.setAttribute('stroke-dasharray', dash);
  return p;
}
function makeText(x, y, str, anchor) {
  const t = document.createElementNS(SVG_NS, 'text');
  t.setAttribute('x', x);
  t.setAttribute('y', y);
  t.setAttribute('font-size', 70.5);
  t.setAttribute('text-anchor', anchor);
  t.textContent = str;
  return t;
}

const GRID = '#d9d9d9';
function buildAxes(gridG, tickG, xf, yf, yTicks, yMinor, left, right, top, bottom) {
  xTickMinutes.forEach(m => {
    const g = makeLine(xf(m), top, xf(m), bottom, GRID, 5);
    
    
    gridG.appendChild(g);
    const tb = makeLine(xf(m), bottom, xf(m), bottom - 20, '#000', 5);
    
    
    tickG.appendChild(tb);
    const tt = makeLine(xf(m), top, xf(m), top + 20, '#000', 5);
    
    
    tickG.appendChild(tt);
  });
  yTicks.forEach(v => {
    const g = makeLine(left, yf(v), right, yf(v), GRID, 5);
    
    
    gridG.appendChild(g);
  });
  const lo = yf.domainLow, hi = yf.domainHigh;
  const n = Math.round((hi - lo) / yMinor);
  for (let i = 0; i <= n; i++) {
    const v = lo + i * yMinor;
    const isMajor = yTicks.some(t => Math.abs(t - v) < 1e-6);
    const len = isMajor ? 20 : 12;
    const tl = makeLine(left, yf(v), left + len, yf(v), '#000', 5.5);
    
    
    tickG.appendChild(tl);
    const tr = makeLine(right, yf(v), right - len, yf(v), '#000', 5.5);
    
    
    tickG.appendChild(tr);
  }
}
yA.domainLow = 2; yA.domainHigh = 5;
yB.domainLow = -0.3; yB.domainHigh = 1;
buildAxes(document.getElementById('gridA'), document.getElementById('ticksA'), xA, yA, yTicksA, yMinorStepA, 316.7, 2046.5, 122.6, 1080.6);
buildAxes(document.getElementById('gridB'), document.getElementById('ticksB'), xB, yB, yTicksB, yMinorStepB, 313.4, 2046.5, 1332, 2314.8);

// tick labels
const labelsG = document.getElementById('labels');
xTickMinutes.forEach((m, i) => {
  const a = makeText(xA(m), 1170, xTickLabels[i], 'middle');
  
  
  labelsG.appendChild(a);
  const b = makeText(xB(m), 2403, xTickLabels[i], 'middle');
  
  
  labelsG.appendChild(b);
});
yTicksA.forEach((v, i) => {
  const t = makeText(293, yA(v) + 25, yLabelsA[i], 'end');
  
  
  labelsG.appendChild(t);
});
yTicksB.forEach((v, i) => {
  const t = makeText(289, yB(v) + 25.5, yLabelsB[i], 'end');
  
  
  labelsG.appendChild(t);
});

// panel (a) series
const marksA = document.getElementById('marksA');
const a1 = makePath(twCuIkpA, xA, yA, '#0000ff', 6, null, true);


marksA.appendChild(a1);
[twPaSeg1A, twPaSeg2A, twPaSeg3A].forEach(seg => {
  const p = makePath(seg, xA, yA, '#000', 6);
  
  
  marksA.appendChild(p);
});
const a2 = makePath(bwvCuIkpA, xA, yA, '#4169e1', 7);


marksA.appendChild(a2);
[bwvPaSeg1A, bwvPaSeg2A].forEach(seg => {
  const p = makePath(seg, xA, yA, '#999', 7);
  
  
  marksA.appendChild(p);
});
const a3 = makePath(humFrontA, xA, yA, '#8b0000', 6, '24 7 10 7');


marksA.appendChild(a3);
const a4 = makePath(humRearA, xA, yA, '#ff0000', 6, '23 20');


marksA.appendChild(a4);

// panel (b) series
const marksB = document.getElementById('marksB');
const b1 = makePath(cwcCuIkpB, xB, yB, '#0000ff', 6, null, true);


marksB.appendChild(b1);
[cwcPaSeg1B, cwcPaSeg2B, cwcPaSeg3B].forEach(seg => {
  const p = makePath(seg, xB, yB, '#000', 6);
  
  
  marksB.appendChild(p);
});
[bwvPaSeg1B, bwvPaSeg2B].forEach(seg => {
  const p = makePath(seg, xB, yB, '#999', 7);
  
  
  marksB.appendChild(p);
});
const b3 = makePath(wcmB, xB, yB, '#00f000', 6);


marksB.appendChild(b3);
const b2 = makePath(sprayB, xB, yB, '#ff0000', 6, '24 7 10 7');


marksB.appendChild(b2);
</script>
</body>
</html>
